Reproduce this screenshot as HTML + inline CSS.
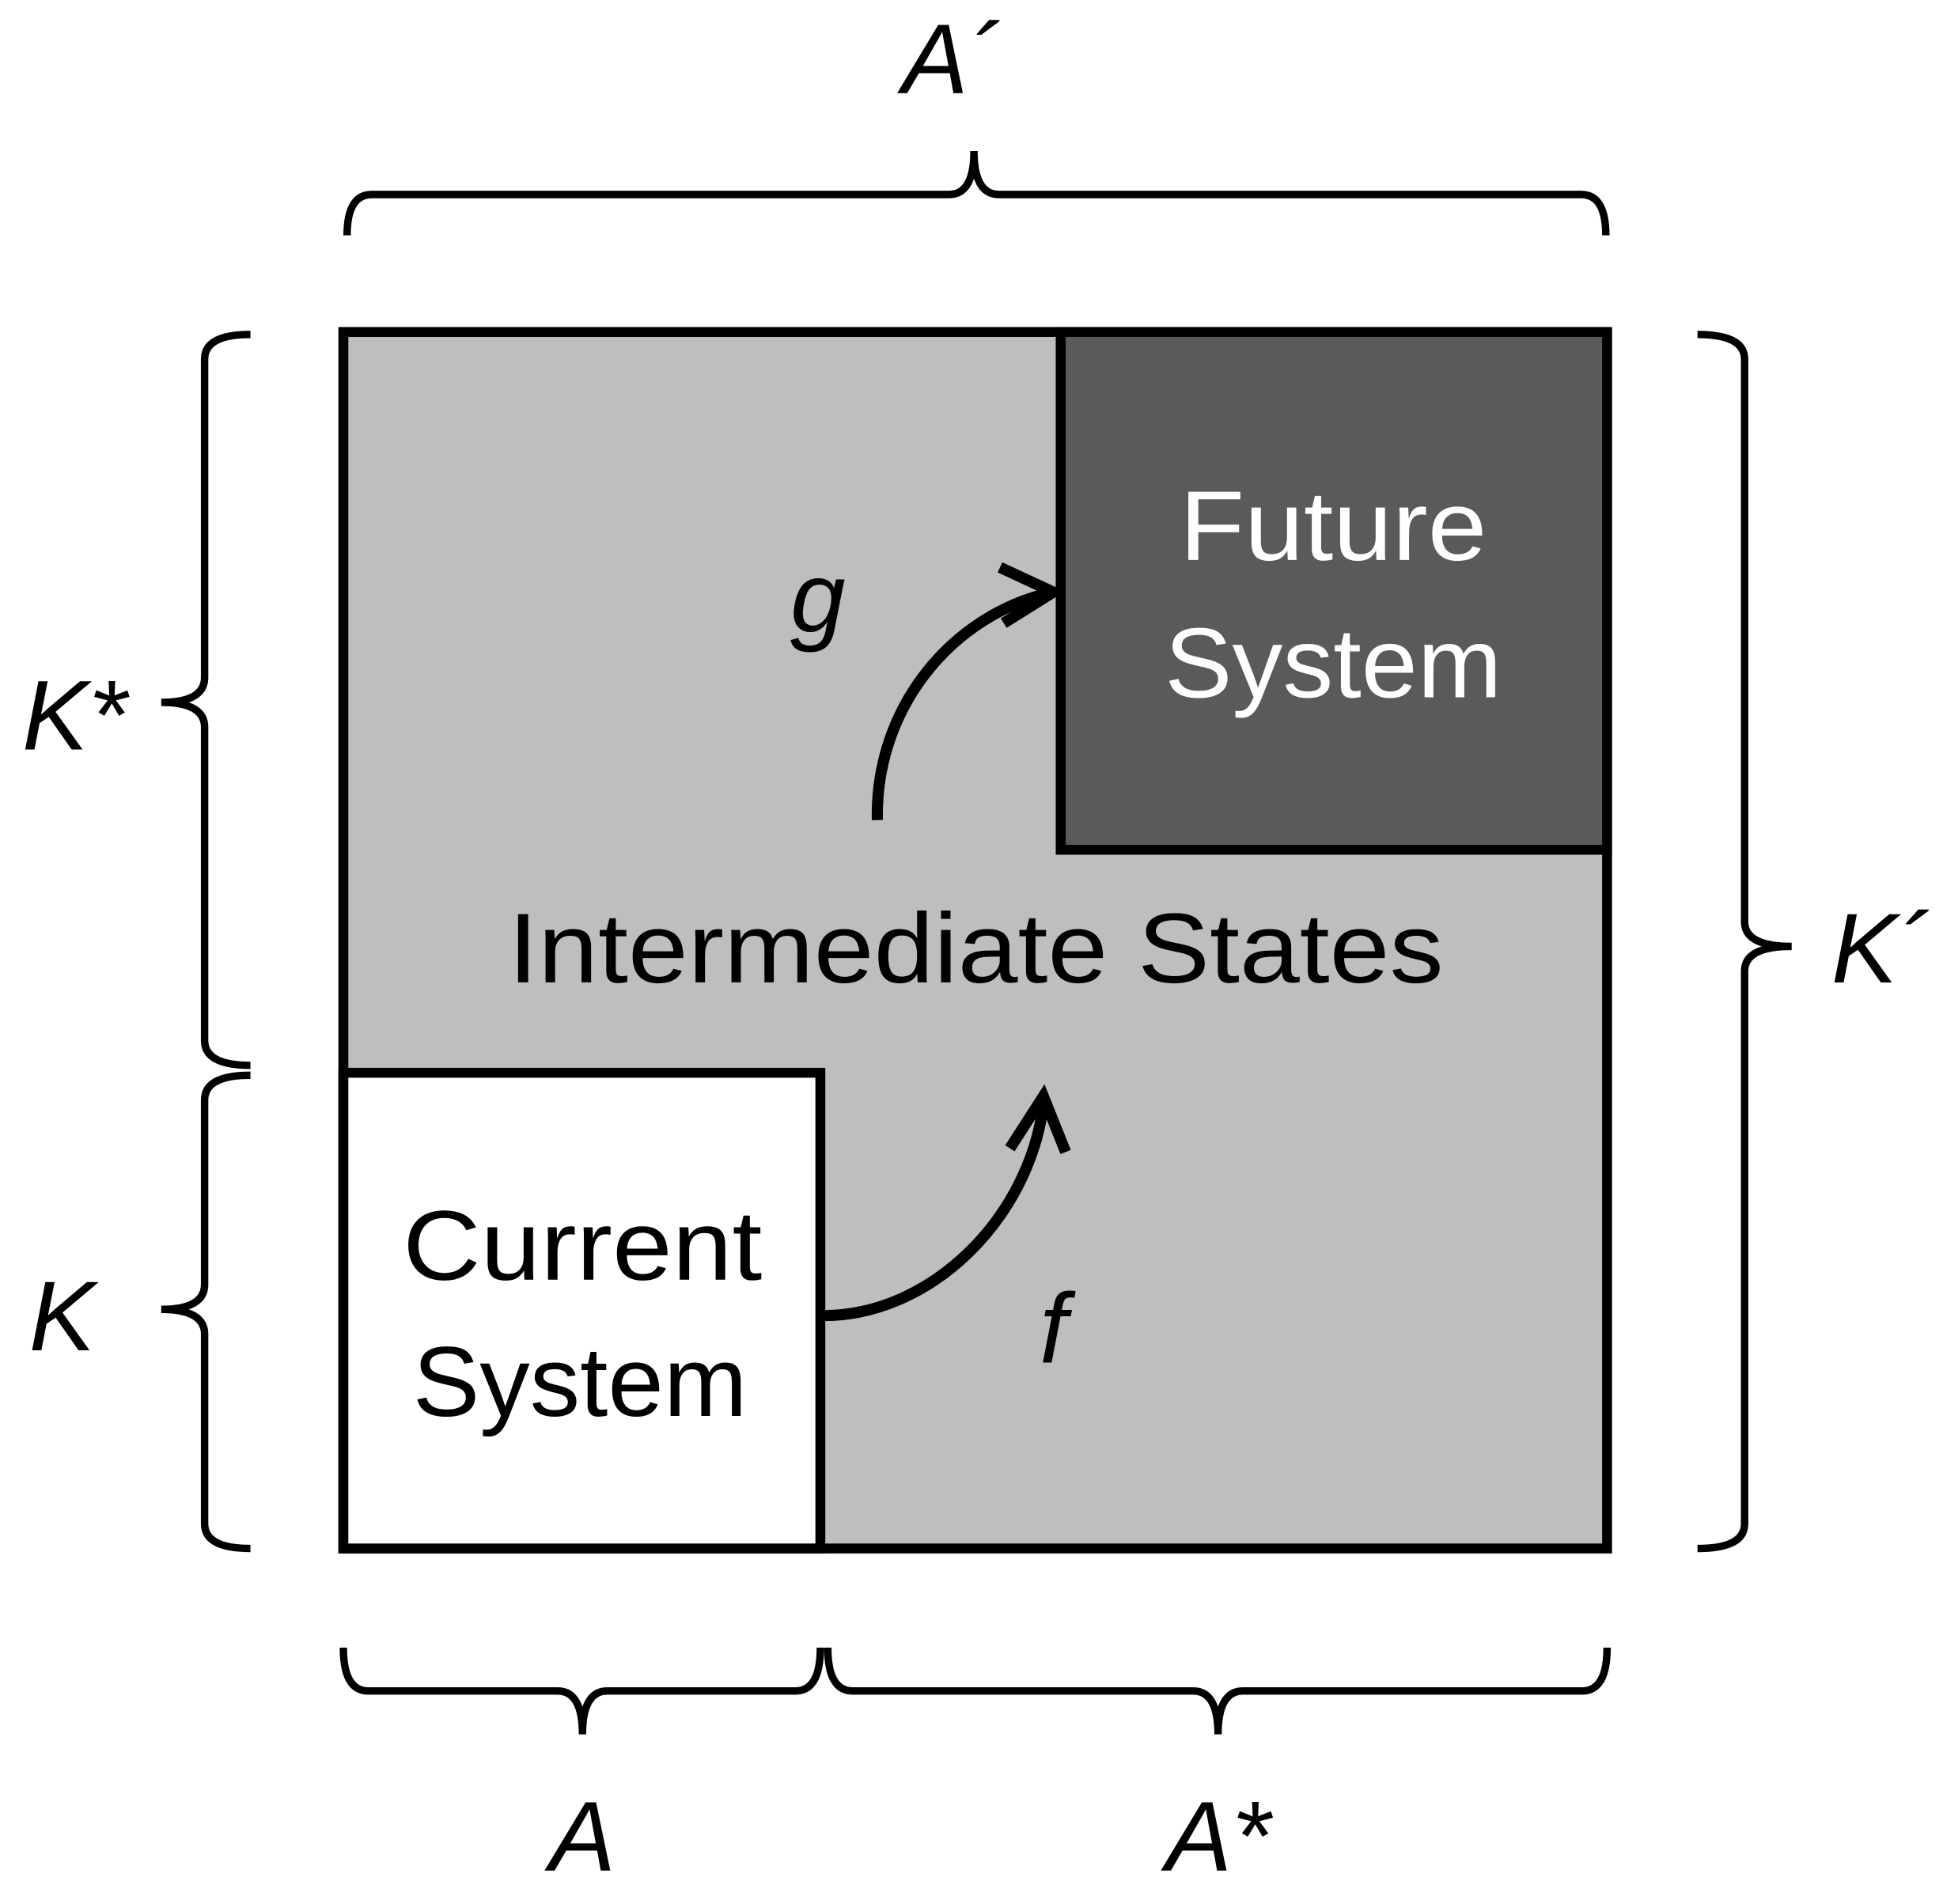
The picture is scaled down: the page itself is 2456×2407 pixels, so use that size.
<!DOCTYPE html>
<html><head><meta charset="utf-8"><style>
html,body{margin:0;padding:0;background:#fff}
svg{display:block}
text{font-family:"Liberation Sans","DejaVu Sans",sans-serif}
</style></head><body>
<svg width="2456" height="2407" viewBox="0 0 1568 1537" xmlns="http://www.w3.org/2000/svg">
<rect x="0" y="0" width="1568" height="1537" fill="#fff"/>
<rect x="277" y="268" width="1020" height="982" fill="#bebebe" stroke="#000" stroke-width="8"/>
<rect x="856" y="268" width="441" height="418" fill="#5a5a5a" stroke="#000" stroke-width="8"/>
<rect x="277" y="866" width="385" height="384" fill="#fff" stroke="#000" stroke-width="8"/>
<g font-size="80">
<text x="952" y="452" fill="#fff" textLength="248" lengthAdjust="spacingAndGlyphs">Future</text>
<text x="940" y="563" fill="#fff" textLength="272" lengthAdjust="spacingAndGlyphs">System</text>
<text x="410" y="793" fill="#000" textLength="755" lengthAdjust="spacingAndGlyphs">Intermediate States</text>
<text x="325" y="1033" fill="#000" textLength="290" lengthAdjust="spacingAndGlyphs">Current</text>
<text x="333" y="1143" fill="#000" textLength="270" lengthAdjust="spacingAndGlyphs">System</text>
</g>
<g fill="none" stroke="#000" stroke-width="9" stroke-linejoin="miter">
<path d="M708,662 C706,570 770,495 850,478"/>
<path d="M807,458 L850,478 L810,503"/>
<path d="M665,1062 C750,1062 830,985 842,892"/>
<path d="M815,927 L842,885 L860,930"/>
</g>
<g fill="none" stroke="#000" stroke-width="6">
<path d="M280,190 Q280,157 300,157 L766,157 Q786,157 786,122 Q786,157 806,157 L1276,157 Q1296,157 1296,190"/>
<path d="M202,270 Q165,270 165,290 L165,547 Q165,567 130,567 Q165,567 165,587 L165,840 Q165,860 202,860"/>
<path d="M202,868 Q165,868 165,888 L165,1037 Q165,1057 130,1057 Q165,1057 165,1077 L165,1230 Q165,1250 202,1250"/>
<path d="M1370,270 Q1408,270 1408,290 L1408,744 Q1408,764 1446,764 Q1408,764 1408,784 L1408,1230 Q1408,1250 1370,1250"/>
<path d="M277,1330 Q277,1365 297,1365 L450,1365 Q470,1365 470,1400 Q470,1365 490,1365 L642,1365 Q662,1365 662,1330"/>
<path d="M668,1330 Q668,1365 688,1365 L963,1365 Q983,1365 983,1400 Q983,1365 1003,1365 L1277,1365 Q1297,1365 1297,1330"/>
</g>
<g font-size="80" font-style="italic" fill="#000" text-anchor="middle">
<text x="768" y="75">A´</text>
<text x="60" y="605">K*</text>
<text x="50" y="1090">K</text>
<text x="1518" y="793">K´</text>
<text x="470" y="1510">A</text>
<text x="983" y="1510">A*</text>
<text x="660" y="510">g</text>
<text x="850" y="1100">f</text>
</g>
</svg>
</body></html>
